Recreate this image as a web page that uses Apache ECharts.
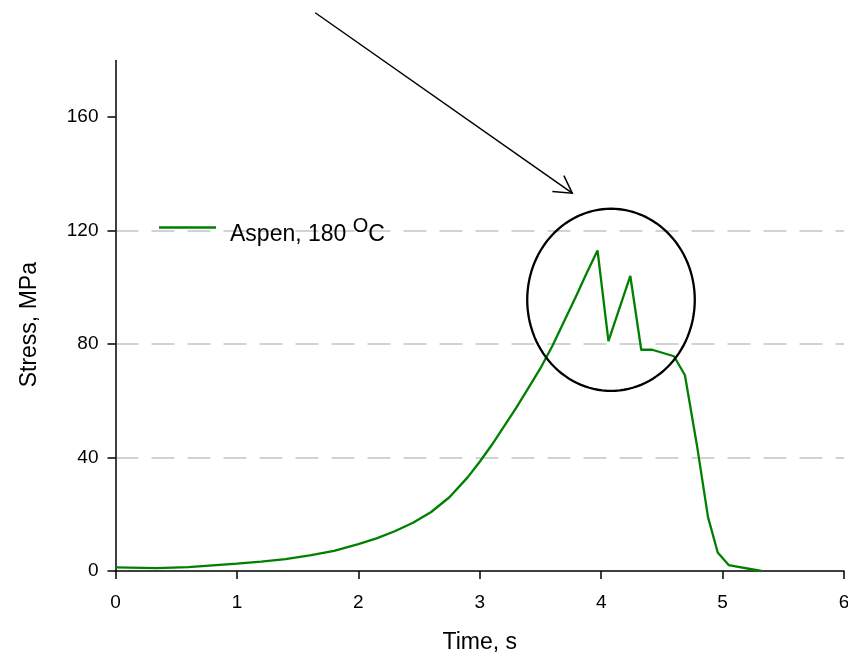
<!DOCTYPE html>
<html>
<head>
<meta charset="utf-8">
<script src="https://cdn.jsdelivr.net/npm/echarts@6/dist/echarts.min.js"></script>
<style>html,body{margin:0;padding:0;background:#fff}#c{width:848px;height:658px}</style>
</head>
<body>
<div id="c"></div>
<script>
var timeS = [0, 0.34, 0.6, 0.8, 1.0, 1.2, 1.4, 1.6, 1.8, 2.0, 2.15, 2.3, 2.45, 2.6, 2.75, 2.9, 3.0, 3.1, 3.2, 3.3, 3.4, 3.5, 3.6, 3.7, 3.8, 3.88, 3.97, 4.06, 4.24, 4.33, 4.42, 4.6, 4.69, 4.79, 4.88, 4.96, 5.05, 5.32];
var stressMPa = [1.3, 1.0, 1.4, 2.0, 2.6, 3.3, 4.2, 5.5, 7.1, 9.5, 11.5, 14.0, 17.0, 20.8, 26.0, 33.0, 38.5, 44.5, 51.0, 57.5, 64.5, 71.5, 79.5, 88.5, 97.5, 105.0, 113.0, 81.0, 104.0, 78.0, 78.0, 75.7, 69.0, 44.0, 19.0, 6.5, 2.1, 0];
var yTicks = [0, 40, 80, 120, 160];
var xTicks = [0, 1, 2, 3, 4, 5, 6];
var seriesName = 'Aspen, 180 OC';
// annotation anchors in data units
var ellipseCenter = [4.081, 95.6];
var ellipseRadii = [0.69, 32.1];
var arrowStart = [1.645, 196.8];
var arrowTip = [3.762, 133.2];
var arrowWingA = [3.693, 139.4];
var arrowWingB = [3.598, 133.8];

var data = timeS.map(function (t, i) { return [t, stressMPa[i]]; });
var chart = echarts.init(document.getElementById('c'), null, {renderer: 'canvas'});
var font = '"Liberation Sans", Arial, Helvetica, sans-serif';
chart.setOption({
  animation: false,
  backgroundColor: '#fff',
  grid: {left: 115.5, right: 4, top: 60.4, bottom: 87, outerBoundsMode: 'none', containLabel: false},
  legend: {
    left: 159, top: 212, padding: 0, selectedMode: false,
    icon: 'rect', itemWidth: 57, itemHeight: 2.5,
    data: [seriesName],
    formatter: function () { return '{a|Aspen, 180 }{s|O}{a|C}'; },
    textStyle: {
      fontFamily: font, color: '#000',
      rich: {
        a: {fontFamily: font, fontSize: 23, lineHeight: 23, color: '#000', verticalAlign: 'bottom'},
        s: {fontFamily: font, fontSize: 20, lineHeight: 20, color: '#000', verticalAlign: 'bottom', padding: [4, 0, 10, 0]}
      },
      padding: [14, 0, 0, 9]
    }
  },
  xAxis: {
    type: 'value', min: 0, max: 6, interval: 1,
    name: 'Time, s', nameLocation: 'middle', nameGap: 60,
    nameTextStyle: {fontFamily: font, fontSize: 23, color: '#000'},
    axisLine: {onZero: false, lineStyle: {color: '#000', width: 1.5}},
    axisTick: {show: true, inside: false, length: 8, lineStyle: {color: '#000', width: 1.5}},
    axisLabel: {fontFamily: font, fontSize: 19, color: '#000', margin: 22},
    splitLine: {show: false}
  },
  yAxis: {
    type: 'value', min: 0, max: 180, interval: 40,
    name: 'Stress, MPa', nameLocation: 'middle', nameGap: 74,
    nameTextStyle: {fontFamily: font, fontSize: 23, color: '#000', padding: [0, 18, 0, 0]},
    axisLine: {show: true, onZero: false, lineStyle: {color: '#000', width: 1.5}},
    axisTick: {show: true, inside: false, length: 8, customValues: yTicks, lineStyle: {color: '#000', width: 1.5}},
    axisLabel: {fontFamily: font, fontSize: 19, color: '#000', margin: 17, customValues: yTicks},
    splitLine: {show: true, showMinLine: false, showMaxLine: false, lineStyle: {color: '#c4c4c4', width: 1.5, type: [23, 13]}}
  },
  series: [{
    name: seriesName, type: 'line', data: data, showSymbol: false, symbol: 'none',
    lineStyle: {color: '#008000', width: 2.3}, itemStyle: {color: '#008000'},
    clip: false, z: 3
  }]
});

function px(p) { return chart.convertToPixel({gridIndex: 0}, p); }
var ellipsePts = [];
for (var k = 0; k <= 120; k++) {
  var a = k / 120 * Math.PI * 2;
  ellipsePts.push(px([ellipseCenter[0] + ellipseRadii[0] * Math.cos(a), ellipseCenter[1] + ellipseRadii[1] * Math.sin(a)]));
}
chart.setOption({
  graphic: [
    {type: 'polyline', shape: {points: ellipsePts}, style: {stroke: '#000', lineWidth: 2.3, fill: null}, z: 10},
    {type: 'polyline', shape: {points: [px(arrowStart), px(arrowTip)]}, style: {stroke: '#000', lineWidth: 1.5, fill: null}, z: 10},
    {type: 'polyline', shape: {points: [px(arrowWingA), px(arrowTip), px(arrowWingB)]}, style: {stroke: '#000', lineWidth: 1.5, fill: null}, z: 10}
  ]
});
</script>
</body>
</html>
